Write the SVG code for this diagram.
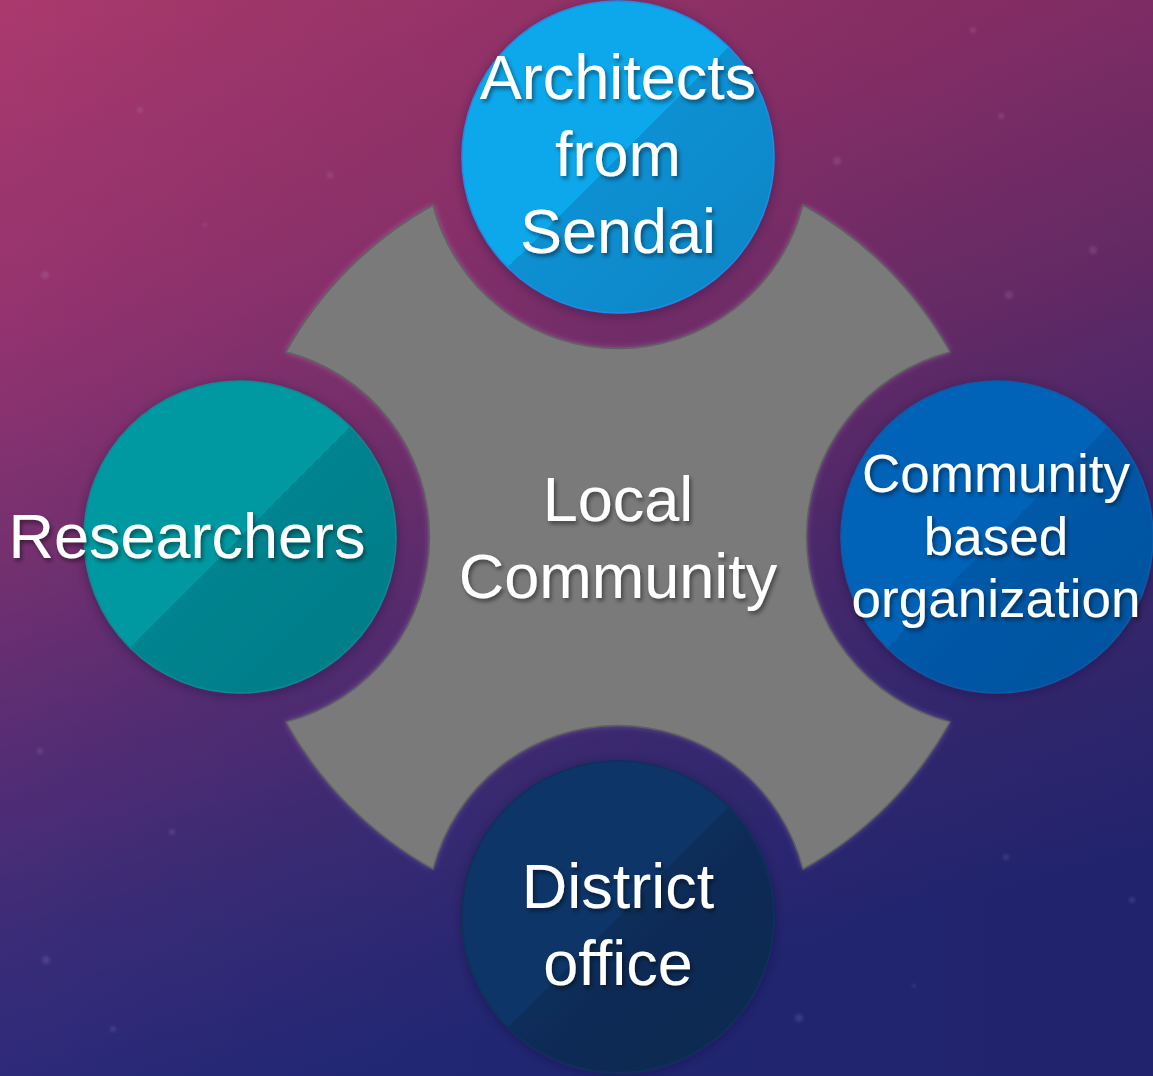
<svg xmlns="http://www.w3.org/2000/svg" width="1153" height="1076" viewBox="0 0 1153 1076">
<defs>
<linearGradient id="bg" x1="0" y1="0" x2="0.3" y2="1">
<stop offset="0" stop-color="#aa396d"/>
<stop offset="0.28" stop-color="#93336f"/>
<stop offset="0.48" stop-color="#74306f"/>
<stop offset="0.63" stop-color="#582d74"/>
<stop offset="0.8" stop-color="#3b2c78"/>
<stop offset="1" stop-color="#23297a"/>
</linearGradient>
<linearGradient id="bgR" x1="0" y1="0" x2="1" y2="0">
<stop offset="0" stop-color="#000" stop-opacity="0"/>
<stop offset="1" stop-color="#1a0a30" stop-opacity="0.18"/>
</linearGradient>
<linearGradient id="gTop" x1="0" y1="0" x2="1" y2="1">
<stop offset="0.5" stop-color="#0ca8ec"/>
<stop offset="0.5" stop-color="#0990d2"/>
<stop offset="1" stop-color="#0784c4"/>
</linearGradient>
<linearGradient id="gLeft" x1="0" y1="0" x2="1" y2="1">
<stop offset="0.5" stop-color="#0099a1"/>
<stop offset="0.5" stop-color="#00848f"/>
<stop offset="1" stop-color="#007b88"/>
</linearGradient>
<linearGradient id="gRight" x1="0" y1="0" x2="1" y2="1">
<stop offset="0.5" stop-color="#0564b8"/>
<stop offset="0.5" stop-color="#0559a8"/>
<stop offset="1" stop-color="#05519c"/>
</linearGradient>
<linearGradient id="gBottom" x1="0" y1="0" x2="1" y2="1">
<stop offset="0.5" stop-color="#0c3567"/>
<stop offset="0.5" stop-color="#0a2d59"/>
<stop offset="1" stop-color="#08284f"/>
</linearGradient>
<filter id="glow" x="-10%" y="-10%" width="120%" height="120%">
<feGaussianBlur stdDeviation="3"/>
</filter>
<filter id="soft" x="-100%" y="-100%" width="300%" height="300%">
<feGaussianBlur stdDeviation="1.5"/>
</filter>
<filter id="shadow" x="-20%" y="-20%" width="140%" height="140%">
<feDropShadow dx="0" dy="2" stdDeviation="6" flood-color="#140a30" flood-opacity="0.35"/>
</filter>
<filter id="txt" x="-10%" y="-20%" width="120%" height="140%">
<feDropShadow dx="2" dy="3" stdDeviation="2" flood-color="#000" flood-opacity="0.45"/>
</filter>
<path id="hub" d="M433,205 A191,191 0 0 0 803,205 A380,380 0 0 1 950,352 A191,191 0 0 0 950,722 A380,380 0 0 1 803,869 A191,191 0 0 0 433,869 A380,380 0 0 1 286,722 A191,191 0 0 0 286,352 A380,380 0 0 1 433,205 Z"/>
</defs>
<style>
.lbl{font-family:"Liberation Sans",Arial,sans-serif;fill:#ffffff;text-anchor:middle;filter:url(#txt)}
.big{font-size:63px}
.small{font-size:53px}
.node{filter:url(#shadow)}
.star{fill:#e8c8ff;opacity:0.12;filter:url(#soft)}
</style>
<rect x="0" y="0" width="1153" height="1076" fill="url(#bg)"/>
<rect x="0" y="0" width="1153" height="1076" fill="url(#bgR)"/>
<g id="stars">
<circle class="star" cx="140" cy="110" r="3"/>
<circle class="star" cx="330" cy="175" r="3"/>
<circle class="star" cx="45" cy="275" r="4"/>
<circle class="star" cx="205" cy="225" r="2"/>
<circle class="star" cx="973" cy="30" r="3"/>
<circle class="star" cx="1001" cy="116" r="3"/>
<circle class="star" cx="837" cy="161" r="4"/>
<circle class="star" cx="1093" cy="250" r="4"/>
<circle class="star" cx="1009" cy="295" r="4"/>
<circle class="star" cx="172" cy="832" r="3"/>
<circle class="star" cx="40" cy="751" r="3"/>
<circle class="star" cx="46" cy="960" r="4"/>
<circle class="star" cx="113" cy="1029" r="3"/>
<circle class="star" cx="1006" cy="857" r="3"/>
<circle class="star" cx="914" cy="986" r="2"/>
<circle class="star" cx="799" cy="1018" r="4"/>
<circle class="star" cx="1132" cy="900" r="3"/>
</g>
<g id="local-community">
<use href="#hub" fill="#d8b8f0" opacity="0.35" filter="url(#glow)"/>
<use href="#hub" fill="#7a7a7a" stroke="#5f6360" stroke-width="1.5"/>
<text class="lbl big" x="618" y="521">Local</text>
<text class="lbl big" x="618" y="598">Community</text>
</g>
<g id="architects">
<circle class="node" cx="618" cy="157" r="156" fill="url(#gTop)" stroke="#1a8ee8" stroke-width="1.5"/>
<text class="lbl big" x="618" y="99">Architects</text>
<text class="lbl big" x="618" y="176">from</text>
<text class="lbl big" x="618" y="253">Sendai</text>
</g>
<g id="researchers">
<circle class="node" cx="240" cy="537" r="156" fill="url(#gLeft)" stroke="#0a8a90" stroke-width="1.5"/>
<text class="lbl big" x="187" y="558">Researchers</text>
</g>
<g id="cbo">
<circle class="node" cx="997" cy="537" r="156" fill="url(#gRight)" stroke="#0a5aa8" stroke-width="1.5"/>
<text class="lbl small" x="996" y="492">Community</text>
<text class="lbl small" x="996" y="555">based</text>
<text class="lbl small" x="996" y="617">organization</text>
</g>
<g id="district-office">
<circle class="node" cx="618" cy="917" r="156" fill="url(#gBottom)" stroke="#0a3258" stroke-width="1.5"/>
<text class="lbl big" x="618" y="908">District</text>
<text class="lbl big" x="618" y="985">office</text>
</g>
</svg>
